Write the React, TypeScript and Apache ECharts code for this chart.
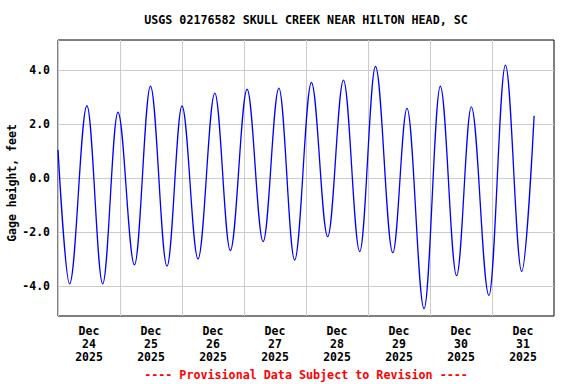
import { useEffect, useRef } from "react";
import * as echarts from "echarts";

const titleText = "USGS 02176582 SKULL CREEK NEAR HILTON HEAD, SC";
const yAxisTitle = "Gage height, feet";
const footerText = "---- Provisional Data Subject to Revision ----";

const startTime = "2025-12-24T00:00";
const endTime = "2026-01-01T00:00";

// High / low turning points of the gage record (UTC-free local reading times)
const readingTimes = [
  "2025-12-24T00:00", "2025-12-24T04:30", "2025-12-24T11:12", "2025-12-24T17:18",
  "2025-12-24T23:12", "2025-12-25T05:36", "2025-12-25T11:48", "2025-12-25T18:12",
  "2025-12-26T00:00", "2025-12-26T06:12", "2025-12-26T12:42", "2025-12-26T18:42",
  "2025-12-27T01:12", "2025-12-27T07:24", "2025-12-27T13:30", "2025-12-27T19:36",
  "2025-12-28T02:06", "2025-12-28T08:24", "2025-12-28T14:30", "2025-12-28T20:48",
  "2025-12-29T02:54", "2025-12-29T09:36", "2025-12-29T15:06", "2025-12-29T21:42",
  "2025-12-30T04:00", "2025-12-30T10:18", "2025-12-30T16:00", "2025-12-30T22:48",
  "2025-12-31T05:12", "2025-12-31T11:30", "2025-12-31T16:18",
];
const gageHeights = [
  1.04, -3.91, 2.67, -3.91,
  2.43, -3.21, 3.39, -3.26,
  2.66, -2.99, 3.14, -2.68,
  3.28, -2.35, 3.32, -3.03,
  3.53, -2.17, 3.62, -2.72,
  4.12, -2.76, 2.57, -4.83,
  3.39, -3.61, 2.63, -4.34,
  4.17, -3.45, 2.30,
];

const dayLabelDates = [
  "2025-12-24", "2025-12-25", "2025-12-26", "2025-12-27",
  "2025-12-28", "2025-12-29", "2025-12-30", "2025-12-31",
];
const monthNames = ["Jan", "Feb", "Mar", "Apr", "May", "Jun", "Jul", "Aug", "Sep", "Oct", "Nov", "Dec"];
const heightTicks = [-4, -2, 0, 2, 4];
const heightMin = -5.1;
const heightMax = 5.1;

const toMs = (s: string) => Date.parse(s + (s.length === 10 ? "T00:00" : "") + ":00Z");
const hoursFromStart = (s: string) => (toMs(s) - toMs(startTime)) / 3600000;

const FONT = "'DejaVu Sans Mono', 'Liberation Mono', monospace";

export default function App() {
  const ref = useRef<HTMLDivElement>(null);
  useEffect(() => {
    if (!ref.current) return;
    const chart = echarts.init(ref.current, undefined, { renderer: "svg" });
    const totalHours = hoursFromStart(endTime);
    const labelHours = dayLabelDates.map((d) => hoursFromStart(d) + 12);
    const gridHours = dayLabelDates.map((d) => hoursFromStart(d));
    const data = readingTimes.map((t, i) => [hoursFromStart(t), gageHeights[i]]);

    chart.setOption({
      animation: false,
      backgroundColor: "#fff",
      grid: {
        left: 58,
        top: 40,
        right: 22,
        bottom: 68,
        show: true,
        borderColor: "#000",
        borderWidth: 1,
        backgroundColor: "transparent",
        outerBoundsMode: "none",
        containLabel: false,
      },
      xAxis: {
        type: "value",
        min: 0,
        max: totalHours,
        interval: 24,
        axisLine: { show: false },
        axisTick: { show: false, customValues: gridHours },
        splitLine: { show: true, lineStyle: { color: "#cccccc", width: 1 } },
        axisLabel: {
          customValues: labelHours,
          margin: 8,
          fontFamily: FONT,
          fontWeight: "bold",
          fontSize: 11.5,
          lineHeight: 13,
          color: "#000",
          align: "center",
          formatter: (v: number) => {
            const i = labelHours.findIndex((h) => Math.abs(h - v) < 0.01);
            if (i < 0) return "";
            const [y, m, d] = dayLabelDates[i].split("-");
            return `${monthNames[parseInt(m, 10) - 1]}\n${parseInt(d, 10)}\n${y}`;
          },
        },
      },
      yAxis: {
        type: "value",
        min: heightMin,
        max: heightMax,
        axisLine: { show: false },
        axisTick: { show: false, customValues: heightTicks },
        splitLine: { show: true, lineStyle: { color: "#cccccc", width: 1 } },
        axisLabel: {
          customValues: heightTicks,
          margin: 8,
          fontFamily: FONT,
          fontWeight: "bold",
          fontSize: 11.5,
          color: "#000",
          formatter: (v: number) => v.toFixed(1),
        },
      },
      series: [
        {
          type: "line",
          data,
          showSymbol: false,
          smooth: 0.36,
          smoothMonotone: "x",
          lineStyle: { color: "#0000ff", width: 1.3 },
          clip: true,
        },
      ],
      graphic: [
        {
          type: "text",
          x: 306,
          y: 20,
          style: {
            text: titleText,
            fontFamily: FONT,
            fontWeight: "bold",
            fontSize: 11.7,
            fill: "#000",
            align: "center",
            verticalAlign: "middle",
          },
        },
        {
          type: "text",
          x: 12,
          y: 183,
          rotation: Math.PI / 2,
          style: {
            text: yAxisTitle,
            fontFamily: FONT,
            fontWeight: "bold",
            fontSize: 11.5,
            fill: "#000",
            align: "center",
            verticalAlign: "middle",
          },
        },
        {
          type: "text",
          x: 306,
          y: 375,
          style: {
            text: footerText,
            fontFamily: FONT,
            fontWeight: "bold",
            fontSize: 11.7,
            fill: "#ff0000",
            align: "center",
            verticalAlign: "middle",
          },
        },
      ],
    });
    return () => chart.dispose();
  }, []);
  return (
    <div
      ref={ref}
      style={{ position: "fixed", left: 0, top: 0, width: 576, height: 384 }}
    />
  );
}
